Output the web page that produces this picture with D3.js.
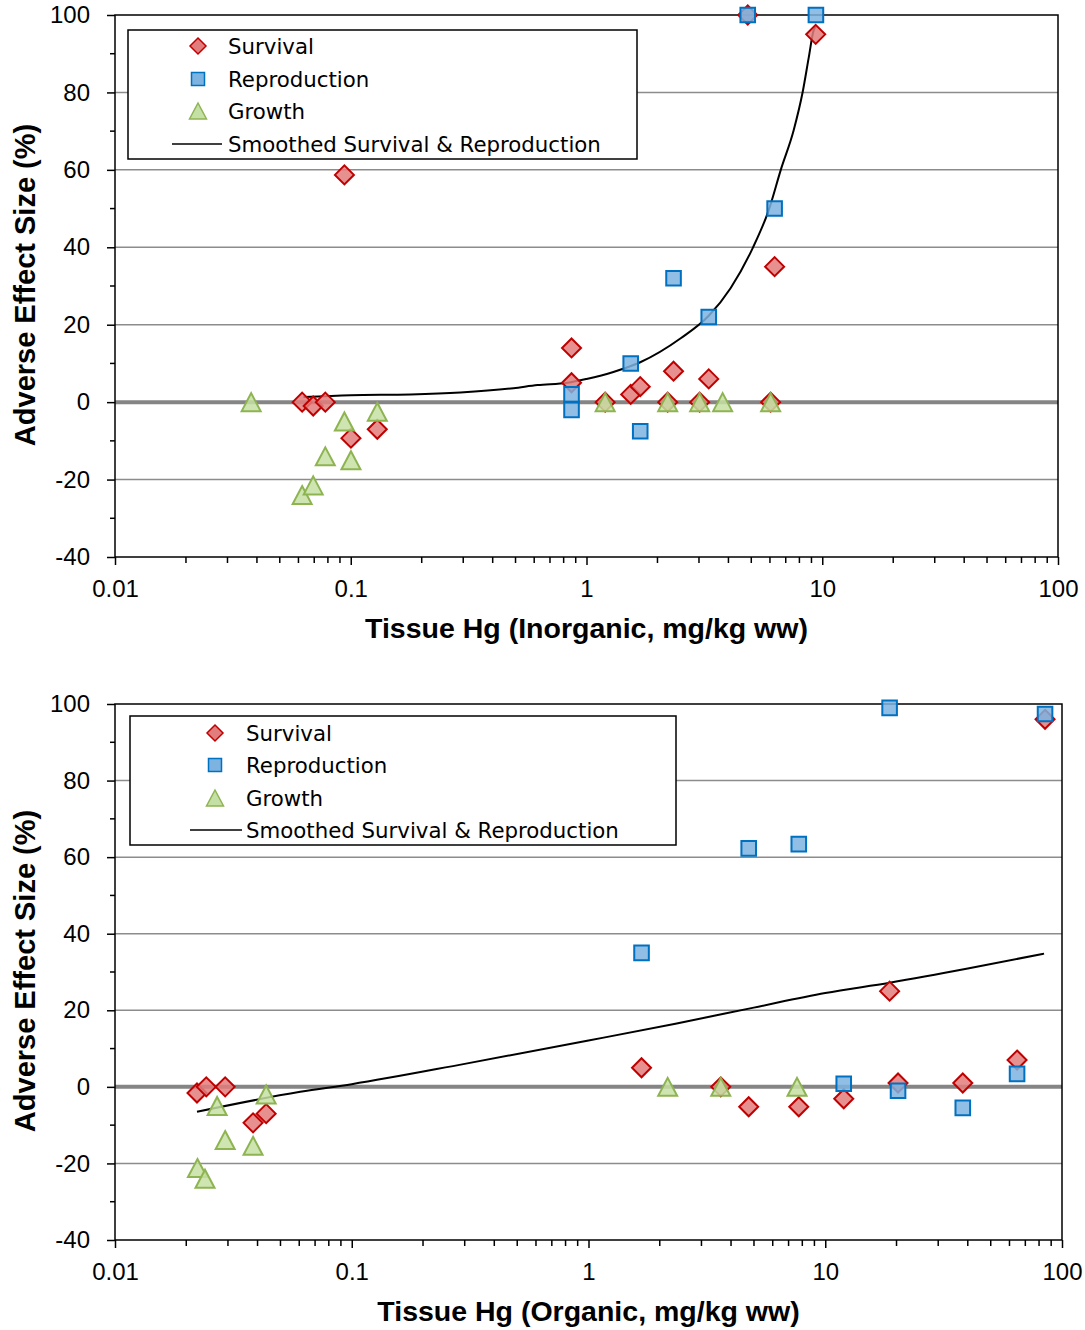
<!DOCTYPE html>
<html>
<head>
<meta charset="utf-8">
<script src="https://cdn.jsdelivr.net/npm/d3@7"></script>
<style>
  body { margin: 0; background: #fff; }
  svg { display: block; }
</style>
</head>
<body>
<script>
// ---- data ----
// top panel: inorganic Hg
var inorgSurvivalX = [0.0622, 0.0693, 0.078, 0.094, 0.1002, 0.1296, 0.864, 0.864, 1.2, 1.54, 1.69, 2.21, 2.34, 3.02, 3.3, 4.83, 6.04, 6.28, 9.38]
var inorgSurvivalY = [0, -1, 0, 58.7, -9.3, -7, 14, 5, 0, 2, 4, 0, 8, 0, 6, 100, 0, 35, 95]
var inorgReproX = [0.864, 0.864, 1.54, 1.69, 2.34, 3.3, 4.83, 6.28, 9.4]
var inorgReproY = [2, -2, 10, -7.5, 32, 22, 100, 50, 100]
var inorgGrowthX = [0.0378, 0.0622, 0.0693, 0.078, 0.094, 0.1002, 0.1296, 1.2, 2.21, 3.02, 3.78, 6.04]
var inorgGrowthY = [0, -24, -21.5, -14, -5, -15, -2.5, 0, 0, 0, 0, 0]
var inorgSmoothX = [0.063, 0.1, 0.179, 0.292, 0.49, 0.62, 0.83, 1.0, 1.30, 1.69, 2.51, 3.3, 4.09, 5.07, 5.93, 6.67, 7.57, 8.26, 8.77, 9.2, 9.4]
var inorgSmoothY = [1.3, 1.8, 2.0, 2.5, 3.6, 4.4, 5.0, 6.0, 7.8, 10.3, 16.5, 22.3, 29.5, 39.8, 49.6, 60, 70.3, 80.1, 89.1, 96.1, 97]

// bottom panel: organic Hg
var orgSurvivalX = [0.0222, 0.0243, 0.0292, 0.0383, 0.0435, 1.675, 3.62, 4.75, 7.73, 11.97, 18.7, 20.3, 38.1, 64.6, 84.8]
var orgSurvivalY = [-1.6, 0, 0, -9.4, -7, 5, 0, -5.2, -5.2, -3.1, 25, 1, 1, 7, 96]
var orgReproX = [1.675, 4.75, 7.73, 11.97, 18.7, 20.3, 38.1, 64.6, 84.8]
var orgReproY = [35, 62.3, 63.4, 0.8, 99, -1, -5.5, 3.4, 97.4]
var orgGrowthX = [0.0223, 0.024, 0.027, 0.0292, 0.0383, 0.0435, 2.16, 3.62, 7.6]
var orgGrowthY = [-21.2, -24, -5, -13.9, -15.4, -2, 0, 0, 0]
var orgSmoothX = [0.0222, 0.0606, 0.1, 0.3, 1.0, 2.33, 4.99, 10, 18.7, 40, 84]
var orgSmoothY = [-6.5, -1.3, 0.7, 6, 12.1, 16.5, 20.7, 24.5, 27.2, 30.9, 34.8]

var xTickValues = [0.01, 0.1, 1, 10, 100]
var xTickLabels = ["0.01", "0.1", "1", "10", "100"]
var yTickValues = [-40, -20, 0, 20, 40, 60, 80, 100]
var legendLabels = ["Survival", "Reproduction", "Growth", "Smoothed Survival & Reproduction"]

var width = 1085
var height = 1330

var svg = d3.select("body").append("svg")
  .attr("width", width)
  .attr("height", height)

// marker shapes
function diamond(r) { return "M0," + (-r) + "L" + r + ",0L0," + r + "L" + (-r) + ",0Z" }
function square(h) { return "M" + (-h) + "," + (-h) + "H" + h + "V" + h + "H" + (-h) + "Z" }
function triangle(w, h) { return "M0," + (-h) + "L" + w + "," + h + "L" + (-w) + "," + h + "Z" }

var styles = {
  survival: { path: diamond(9.5), key: diamond(8), fill: "#e27d7d", stroke: "#c00000" },
  repro: { path: square(7.3), key: square(6.5), fill: "#7db3e0", stroke: "#0070c0" },
  growth: { path: triangle(9.5, 9), key: triangle(8.5, 8), fill: "#c5e0a5", stroke: "#8eb452" }
}

function zip(xs, ys) { return xs.map((x, i) => ({ x: x, y: ys[i] })) }

var tickFont = "Liberation Sans, Arial, sans-serif"

function drawPanel(p) {
  var x = d3.scaleLog().domain([0.01, 100]).range([p.left, p.right])
  var y = d3.scaleLinear().domain([-40, 100]).range([p.bottom, p.top])
  var g = svg.append("g")

  // gridlines
  g.selectAll(".grid")
    .data(yTickValues.filter(v => v > -40 && v < 100 && v !== 0))
    .enter().append("line")
    .attr("x1", p.left).attr("x2", p.right)
    .attr("y1", d => y(d)).attr("y2", d => y(d))
    .attr("stroke", "#8c8c8c").attr("stroke-width", 1.5)

  // thick zero line
  g.append("line")
    .attr("x1", p.left).attr("x2", p.right)
    .attr("y1", y(0)).attr("y2", y(0))
    .attr("stroke", "#858585").attr("stroke-width", 4)

  // frame
  g.append("rect")
    .attr("x", p.left).attr("y", p.top)
    .attr("width", p.right - p.left).attr("height", p.bottom - p.top)
    .attr("fill", "none").attr("stroke", "#000").attr("stroke-width", 1.5)

  // y axis
  var yAxis = d3.axisLeft(y).tickValues(yTickValues).tickFormat(d => String(d)).tickSize(8).tickPadding(17)
  var ya = g.append("g").attr("transform", "translate(" + p.left + ",0)").call(yAxis)
  ya.select(".domain").remove()
  ya.selectAll("line").attr("stroke-width", 1.5)
  ya.selectAll("text").attr("font-family", tickFont).attr("font-size", 24).attr("fill", "#000")
  g.selectAll(".yminor")
    .data(d3.range(-30, 100, 20))
    .enter().append("line")
    .attr("x1", p.left - 5).attr("x2", p.left)
    .attr("y1", d => y(d)).attr("y2", d => y(d))
    .attr("stroke", "#000").attr("stroke-width", 1.5)

  // x axis
  var xAxis = d3.axisBottom(x).tickValues(xTickValues).tickFormat((d, i) => xTickLabels[i]).tickSize(8).tickPadding(15)
  var xa = g.append("g").attr("transform", "translate(0," + p.bottom + ")").call(xAxis)
  xa.select(".domain").remove()
  xa.selectAll("line").attr("stroke-width", 1.5)
  xa.selectAll("text").attr("font-family", tickFont).attr("font-size", 24).attr("fill", "#000")
  var minors = []
  xTickValues.slice(0, -1).forEach(function (d) {
    for (var k = 2; k < 10; k++) minors.push(d * k)
  })
  g.selectAll(".xminor")
    .data(minors)
    .enter().append("line")
    .attr("x1", d => x(d)).attr("x2", d => x(d))
    .attr("y1", p.bottom).attr("y2", p.bottom + 6)
    .attr("stroke", "#000").attr("stroke-width", 1.5)

  // titles
  g.append("text")
    .attr("x", (p.left + p.right) / 2)
    .attr("y", p.bottom + 81)
    .attr("text-anchor", "middle")
    .attr("font-family", tickFont)
    .attr("font-weight", "bold").attr("font-size", 28.5)
    .text(p.xTitle)
  g.append("text")
    .attr("transform", "translate(" + 35 + "," + ((p.top + p.bottom) / 2 - 1) + ") rotate(-90)")
    .attr("text-anchor", "middle")
    .attr("font-family", tickFont)
    .attr("font-weight", "bold").attr("font-size", 29)
    .text("Adverse Effect Size (%)")

  // smoothed line
  var line = d3.line().x(d => x(d.x)).y(d => y(d.y)).curve(d3.curveMonotoneX)
  g.append("path")
    .datum(zip(p.smoothX, p.smoothY))
    .attr("d", line)
    .attr("fill", "none").attr("stroke", "#000").attr("stroke-width", 2)

  // markers
  function markers(data, st) {
    g.append("g").selectAll("path")
      .data(data)
      .enter().append("path")
      .attr("transform", d => "translate(" + x(d.x) + "," + y(d.y) + ")")
      .attr("d", st.path)
      .attr("fill", st.fill).attr("fill-opacity", 0.85)
      .attr("stroke", st.stroke).attr("stroke-width", 2)
  }
  markers(zip(p.survX, p.survY), styles.survival)
  markers(zip(p.repX, p.repY), styles.repro)
  markers(zip(p.groX, p.groY), styles.growth)

  // legend
  var L = p.legend
  var lg = g.append("g").attr("transform", "translate(" + L.x + "," + L.y + ")")
  lg.append("rect")
    .attr("width", L.w).attr("height", L.h)
    .attr("fill", "#fff").attr("stroke", "#000").attr("stroke-width", 1.5)
  var keys = [styles.survival, styles.repro, styles.growth, null]
  legendLabels.forEach(function (lab, i) {
    var cy = L.rows[i]
    if (keys[i]) {
      lg.append("path")
        .attr("transform", "translate(" + L.mx + "," + cy + ")")
        .attr("d", keys[i].key)
        .attr("fill", keys[i].fill).attr("stroke", keys[i].stroke).attr("stroke-width", 1.5)
    } else {
      lg.append("line")
        .attr("x1", L.lx1).attr("x2", L.lx2)
        .attr("y1", cy).attr("y2", cy)
        .attr("stroke", "#000").attr("stroke-width", 1.5)
    }
    lg.append("text")
      .attr("x", L.tx).attr("y", cy).attr("dy", "0.36em")
      .attr("font-family", "DejaVu Sans, Verdana, sans-serif").attr("font-size", 21.3)
      .text(lab)
  })
}

drawPanel({
  left: 115, right: 1058, top: 15, bottom: 557,
  xTitle: "Tissue Hg (Inorganic, mg/kg ww)",
  survX: inorgSurvivalX, survY: inorgSurvivalY,
  repX: inorgReproX, repY: inorgReproY,
  groX: inorgGrowthX, groY: inorgGrowthY,
  smoothX: inorgSmoothX, smoothY: inorgSmoothY,
  legend: { x: 128, y: 30, w: 509, h: 129, rows: [16, 49, 81, 114], mx: 70, lx1: 44, lx2: 94, tx: 100 }
})

drawPanel({
  left: 115, right: 1062, top: 704, bottom: 1240,
  xTitle: "Tissue Hg (Organic, mg/kg ww)",
  survX: orgSurvivalX, survY: orgSurvivalY,
  repX: orgReproX, repY: orgReproY,
  groX: orgGrowthX, groY: orgGrowthY,
  smoothX: orgSmoothX, smoothY: orgSmoothY,
  legend: { x: 130, y: 716, w: 546, h: 129, rows: [17, 49, 82, 114], mx: 85, lx1: 60, lx2: 112, tx: 116 }
})
</script>
</body>
</html>
